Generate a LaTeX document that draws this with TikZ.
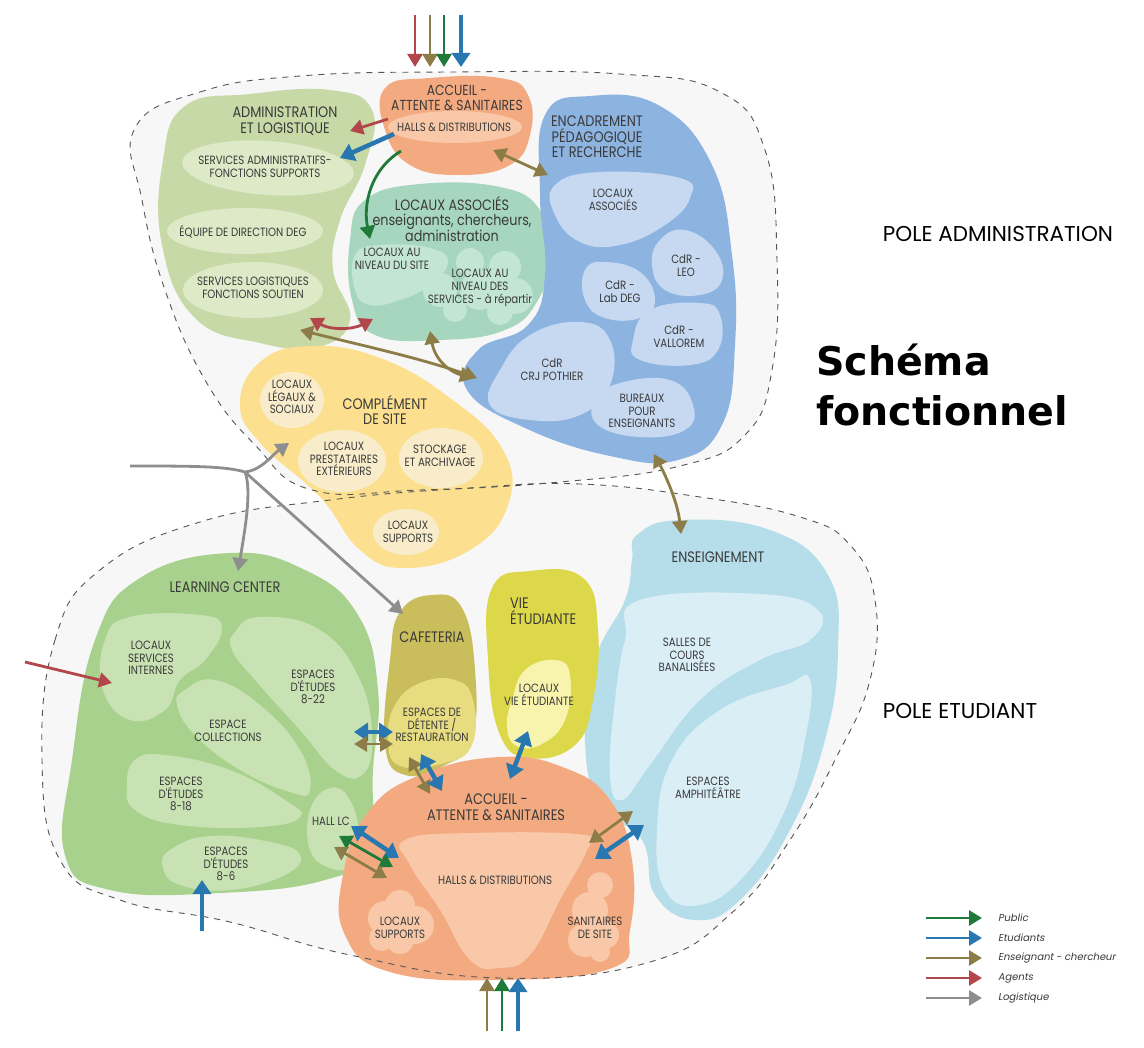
\documentclass[tikz,border=0pt]{standalone}
\usepackage{fontspec}
\setmainfont{Poppins}
\newfontfamily\gfont{Poppins}[FakeStretch=0.85]
\newfontfamily\legfont{Poppins}[FakeSlant=0.18]
\newfontfamily\titlefont{DejaVu Sans}
\usetikzlibrary{arrows.meta}
\definecolor{bgzone}{HTML}{F7F7F7}
\definecolor{dashc}{HTML}{555555}
\definecolor{txt}{HTML}{3A3A3A}
\definecolor{admA}{HTML}{C6D9A6}
\definecolor{admB}{HTML}{DDE9C7}
\definecolor{accA}{HTML}{F3AA80}
\definecolor{accB}{HTML}{F8C8A8}
\definecolor{locA}{HTML}{A7D6BF}
\definecolor{locB}{HTML}{C3E5D3}
\definecolor{encA}{HTML}{8DB4E1}
\definecolor{encB}{HTML}{C6D9F1}
\definecolor{comA}{HTML}{FCE08F}
\definecolor{comB}{HTML}{F8ECCB}
\definecolor{lcA}{HTML}{A9D18E}
\definecolor{lcB}{HTML}{C9E2B4}
\definecolor{cafA}{HTML}{C9BD5C}
\definecolor{cafB}{HTML}{E7DD80}
\definecolor{vieA}{HTML}{DDD84A}
\definecolor{vieB}{HTML}{F8F4AE}
\definecolor{ensA}{HTML}{B6DDEA}
\definecolor{ensB}{HTML}{DAEEF6}
\definecolor{cgreen}{HTML}{1F7A3A}
\definecolor{cblue}{HTML}{2877B0}
\definecolor{colive}{HTML}{8C7D48}
\definecolor{cred}{HTML}{B2474B}
\definecolor{cgray}{HTML}{8E8E90}
\tikzset{
  lab/.style={align=center, text=txt, inner sep=0pt, font=\gfont\fontsize{12}{12.8}\selectfont},
  hd/.style={align=center, text=txt, inner sep=0pt, font=\gfont\fontsize{15.2}{15.5}\selectfont},
  ar/.style={line width=2.8pt, -{Triangle[length=13pt,width=15pt]}},
  dar/.style={line width=2.8pt, {Triangle[length=13pt,width=15pt]}-{Triangle[length=13pt,width=15pt]}},
  arb/.style={line width=4.5pt, -{Triangle[length=14pt,width=18pt]}},
  darb/.style={line width=4.5pt, {Triangle[length=14pt,width=18pt]}-{Triangle[length=14pt,width=18pt]}},
  zone/.style={draw=dashc, line width=0.9pt, dash pattern=on 6pt off 6pt},
  blob/.style={smooth cycle, tension=0.75},
}
\begin{document}
\begin{tikzpicture}[x=1pt,y=-1pt]
\useasboundingbox (0,0) rectangle (1144,1048);
\fill[white] (0,0) rectangle (1144,1048);
% zones
\def\zoneA{plot[blob] coordinates {(135,128) (200,92) (300,76) (450,72) (620,74) (720,92) (765,150) (777,260) (772,370) (745,435) (680,466) (560,482) (420,490) (312,490) (255,445) (205,380) (165,290) (142,200)}}
\def\zoneB{plot[blob] coordinates {(42,760) (55,640) (100,570) (200,522) (330,500) (470,488) (580,484) (700,497) (800,517) (850,545) (875,600) (870,680) (835,760) (790,840) (735,910) (650,962) (500,978) (350,955) (230,922) (120,900) (60,860)}}
\fill[bgzone] \zoneA;
\fill[bgzone] \zoneB;
% admin
\fill[admA] plot[blob] coordinates {(185,106) (250,94) (330,90) (372,110) (365,165) (340,220) (333,270) (350,320) (318,347) (260,343) (195,318) (162,245) (163,160)};
\fill[admB, rotate around={-4:(268,168)}] (268,168) ellipse [x radius=86, y radius=27];
\fill[admB] (245,231) ellipse [x radius=78, y radius=23];
\fill[admB] (253,290) ellipse [x radius=70, y radius=28];
% accueil top
\fill[accA] plot[blob] coordinates {(385,88) (430,78) (500,78) (528,95) (530,135) (510,165) (460,175) (410,165) (385,130)};
\fill[accB] (455,127) ellipse [x radius=67, y radius=16];
% locaux associes
\fill[locA] plot[blob] coordinates {(365,200) (420,184) (500,187) (540,210) (550,255) (538,300) (505,330) (440,340) (375,335) (352,300) (350,240)};
\fill[locB] plot[blob] coordinates {(355,255) (380,245) (430,248) (448,262) (430,285) (400,300) (370,305) (355,290)};
\fill[locB] (470,262) circle (14) (505,267) circle (16) (440,290) circle (17) (480,290) circle (20) (515,296) circle (18) (455,310) circle (12) (500,312) circle (13);
% encadrement
\fill[encA] plot[blob] coordinates {(545,115) (590,96) (660,106) (712,165) (732,255) (735,345) (722,425) (678,460) (610,456) (525,428) (467,390) (478,350) (528,325) (545,275) (540,195)};
\fill[encB] plot[blob] coordinates {(555,185) (600,172) (680,178) (690,198) (665,225) (620,245) (580,242) (555,215)};
\fill[encB] plot[blob] coordinates {(660,240) (685,230) (715,250) (722,280) (700,295) (665,290) (652,265)};
\fill[encB] plot[blob] coordinates {(585,270) (605,262) (640,272) (655,300) (640,318) (605,318) (585,300)};
\fill[encB] plot[blob] coordinates {(650,310) (700,303) (720,315) (718,350) (690,365) (640,360) (633,340)};
\fill[encB] plot[blob] coordinates {(500,370) (530,335) (580,322) (610,340) (610,385) (580,415) (530,420) (490,405)};
\fill[encB] plot[blob] coordinates {(595,400) (620,383) (670,380) (693,405) (685,430) (640,437) (598,425)};
% complement
\fill[comA] plot[blob] coordinates {(240,405) (260,362) (310,346) (380,358) (450,398) (503,450) (508,505) (470,550) (405,568) (360,550) (320,497) (262,445)};
\fill[comB] (292,400) ellipse [x radius=32, y radius=28];
\fill[comB] (342,461) ellipse [x radius=44, y radius=31];
\fill[comB] (441,458) ellipse [x radius=42, y radius=30];
\fill[comB] (406,532) ellipse [x radius=33, y radius=23];
% learning center
\fill[lcA] plot[blob] coordinates {(230,553) (305,570) (358,615) (378,690) (373,770) (368,850) (325,880) (220,893) (110,890) (65,855) (72,760) (95,640) (140,578)};
\fill[lcB] plot[blob] coordinates {(105,640) (130,617) (200,615) (222,628) (205,660) (180,680) (165,710) (130,720) (103,690)};
\fill[lcB] plot[blob] coordinates {(235,632) (260,617) (320,630) (360,680) (372,740) (362,775) (335,770) (300,730) (255,680) (232,650)};
\fill[lcB] plot[blob] coordinates {(185,690) (215,680) (260,705) (300,750) (310,790) (290,792) (240,770) (195,735) (177,705)};
\fill[lcB] plot[blob] coordinates {(135,760) (165,755) (230,770) (285,800) (300,817) (260,827) (180,825) (135,810) (127,785)};
\fill[lcB] plot[blob] coordinates {(170,850) (210,836) (270,842) (300,855) (285,875) (230,890) (180,885) (163,868)};
\fill[lcB] plot[blob] coordinates {(310,810) (330,788) (350,800) (360,840) (352,866) (330,868) (310,850)};
% enseignement
\fill[ensA] plot[blob] coordinates {(637,535) (680,520) (770,530) (828,575) (838,650) (825,740) (790,830) (740,900) (695,920) (655,895) (642,840) (600,805) (585,740) (595,660) (625,600) (632,560)};
\fill[ensB] plot[blob] coordinates {(640,600) (760,594) (818,610) (810,640) (760,660) (700,700) (650,765) (622,800) (610,775) (615,700) (625,640)};
\fill[ensB] plot[blob] coordinates {(810,680) (805,740) (785,810) (745,875) (700,905) (665,890) (657,830) (672,760) (720,710) (785,685)};
% cafeteria
\fill[cafA] plot[blob] coordinates {(400,612) (432,595) (462,608) (475,670) (472,740) (445,765) (405,775) (385,745) (390,660)};
\fill[cafB] plot[blob] coordinates {(395,705) (420,683) (455,680) (473,700) (472,745) (445,763) (400,766) (388,740)};
% vie etudiante
\fill[vieA] plot[blob] coordinates {(492,588) (530,571) (583,578) (598,630) (593,700) (575,745) (530,758) (500,735) (488,660)};
\fill[vieB] plot[blob] coordinates {(512,700) (525,670) (555,660) (570,675) (565,720) (540,745) (515,745) (507,725)};
% accueil bottom
\fill[accA] plot[blob] coordinates {(500,757) (565,768) (610,800) (632,860) (630,930) (612,968) (500,980) (390,972) (345,935) (343,875) (368,812) (420,775)};
\fill[accB] plot[blob] coordinates {(405,840) (470,833) (585,835) (587,850) (560,900) (530,955) (500,968) (470,960) (440,910) (410,865)};
\fill[accB] (385,918) circle (17) (400,905) circle (15) (415,925) circle (19) (400,940) circle (14) (382,938) circle (13);
\fill[accB] (600,885) circle (13) (590,910) circle (18) (585,940) circle (17) (605,935) circle (14) (600,952) circle (10);
% dashed outlines
\draw[zone] \zoneA;
\draw[zone] \zoneB;
% texts
\node[hd] (tAdm) at (285,121) {ADMINISTRATION\\ET LOGISTIQUE};
\node[lab] (tSA) at (265,167) {SERVICES ADMINISTRATIFS-\\FONCTIONS SUPPORTS};
\node[lab] (tEq) at (243,232) {ÉQUIPE DE DIRECTION DEG};
\node[lab] (tSL) at (253,288) {SERVICES LOGISTIQUES\\FONCTIONS SOUTIEN};
\node[hd, font=\gfont\fontsize{14.5}{15}\selectfont] (tAcc) at (457,98) {ACCUEIL -\\ATTENTE \& SANITAIRES};
\node[lab] (tHalls) at (454,127) {HALLS \& DISTRIBUTIONS};
\node[hd, font=\gfont\fontsize{15}{15.5}\selectfont] (tLoc) at (452,219) {LOCAUX ASSOCIÉS\\enseignants, chercheurs,\\administration};
\node[lab] (tLS) at (392,259) {LOCAUX AU\\NIVEAU DU SITE};
\node[lab] (tLSv) at (480,288) {LOCAUX AU\\NIVEAU DES\\SERVICES - à répartir};
\node[hd] (tEnc) at (597,137) {ENCADREMENT\\PÉDAGOGIQUE\\ET RECHERCHE};
\node[lab] (tLA) at (613,200) {LOCAUX\\ASSOCIÉS};
\node[lab] (tLeo) at (686,266) {CdR -\\LEO};
\node[lab] (tLab) at (620,292) {CdR -\\Lab DEG};
\node[lab] (tVal) at (679,337) {CdR -\\VALLOREM};
\node[lab] (tCrj) at (552,370) {CdR\\CRJ POTHIER};
\node[lab] (tBur) at (642,411) {BUREAUX\\POUR\\ENSEIGNANTS};
\node[hd] (tCom) at (385,410) {COMPLÉMENT\\DE SITE};
\node[lab] (tLeg) at (292,397) {LOCAUX\\LÉGAUX \&\\SOCIAUX};
\node[lab] (tPre) at (344,459) {LOCAUX\\PRESTATAIRES\\EXTÉRIEURS};
\node[lab] (tSto) at (440,456) {STOCKAGE\\ET ARCHIVAGE};
\node[lab] (tSup1) at (408,532) {LOCAUX\\SUPPORTS};
\node[hd] (tLC) at (225,587) {LEARNING CENTER};
\node[lab] (tInt) at (151,658) {LOCAUX\\SERVICES\\INTERNES};
\node[lab] (t822) at (313,687) {ESPACES\\D'ÉTUDES\\8-22};
\node[lab] (tCol) at (228,731) {ESPACE\\COLLECTIONS};
\node[lab] (t818) at (181,794) {ESPACES\\D'ÉTUDES\\8-18};
\node[lab] (t86) at (226,864) {ESPACES\\D'ÉTUDES\\8-6};
\node[lab] (tHall) at (331,821) {HALL LC};
\node[hd] (tCaf) at (432,637) {CAFETERIA};
\node[lab] (tDet) at (432,725) {ESPACES DE\\DÉTENTE /\\RESTAURATION};
\node[hd, align=left, anchor=west] (tVie) at (510,611) {VIE\\ÉTUDIANTE};
\node[lab] (tLVE) at (539,695) {LOCAUX\\VIE ÉTUDIANTE};
\node[hd] (tAcc2) at (496,807) {ACCUEIL -\\ATTENTE \& SANITAIRES};
\node[lab] (tHalls2) at (495,880) {HALLS \& DISTRIBUTIONS};
\node[lab] (tSup2) at (400,928) {LOCAUX\\SUPPORTS};
\node[lab] (tSan) at (595,928) {SANITAIRES\\DE SITE};
\node[hd] (tEns) at (718,557) {ENSEIGNEMENT};
\node[lab] (tSal) at (687,655) {SALLES DE\\COURS\\BANALISÉES};
\node[lab] (tAmp) at (708,788) {ESPACES\\AMPHITÉÂTRE};
\node[text=black, font=\fontsize{21.5}{24}\selectfont, inner sep=0pt] (pA) at (998,234) {POLE ADMINISTRATION};
\node[text=black, font=\fontsize{21.5}{24}\selectfont, inner sep=0pt] (pE) at (960,711) {POLE ETUDIANT};
\node[text=black, font=\titlefont\bfseries\fontsize{39.5}{46}\selectfont, inner sep=0pt, anchor=base west] (sch1) at (816,376) {Schéma};
\node[text=black, font=\titlefont\bfseries\fontsize{39.5}{46}\selectfont, inner sep=0pt, anchor=base west] (sch2) at (816,426) {fonctionnel};
% arrow end points
\coordinate (v1a) at (415,15); \coordinate (v1b) at (415,67);
\coordinate (v2a) at (430,15); \coordinate (v2b) at (430,67);
\coordinate (v3a) at (444,15); \coordinate (v3b) at (444,67);
\coordinate (v4a) at (461,15); \coordinate (v4b) at (461,67);
\coordinate (rAa) at (388,119); \coordinate (rAb) at (350,131);
\coordinate (bAa) at (394,134); \coordinate (bAb) at (340,158);
\coordinate (gLa) at (401,151); \coordinate (gLb) at (370,239);
\coordinate (oEa) at (493,150); \coordinate (oEb) at (548,175);
\coordinate (rLa) at (310,318); \coordinate (rLb) at (373,319);
\coordinate (oAa) at (300,330); \coordinate (oAb) at (477,378);
\coordinate (oLa) at (430,331); \coordinate (oLb) at (473,378);
\coordinate (oNa) at (654,454); \coordinate (oNb) at (681,534);
\coordinate (gs) at (130,466); \coordinate (gj) at (245,472);
\coordinate (gC) at (289,443); \coordinate (gLC) at (238,571);
\coordinate (gCaf) at (403,614);
\coordinate (rIa) at (25,662); \coordinate (rIb) at (112,683);
\coordinate (bUa) at (202,931); \coordinate (bUb) at (202,880);
\coordinate (bCa) at (354,732); \coordinate (bCb) at (393,732);
\coordinate (oCa) at (354,744); \coordinate (oCb) at (393,744);
\coordinate (oKa) at (409,757); \coordinate (oKb) at (430,794);
\coordinate (bKa) at (421,754); \coordinate (bKb) at (442,791);
\coordinate (bVa) at (528,731); \coordinate (bVb) at (510,779);
\coordinate (bHa) at (351,826); \coordinate (bHb) at (399,858);
\coordinate (gHa) at (339,836); \coordinate (gHb) at (393,867);
\coordinate (oHa) at (334,847); \coordinate (oHb) at (387,878);
\coordinate (oSa) at (633,811); \coordinate (oSb) at (589,843);
\coordinate (bSa) at (644,825); \coordinate (bSb) at (595,859);
\coordinate (w1a) at (487,1031); \coordinate (w1b) at (487,978);
\coordinate (w2a) at (502,1031); \coordinate (w2b) at (502,978);
\coordinate (w3a) at (518,1031); \coordinate (w3b) at (518,978);
% arrows
\draw[ar, cred] (v1a) -- (v1b);
\draw[ar, colive] (v2a) -- (v2b);
\draw[ar, cgreen] (v3a) -- (v3b);
\draw[arb, cblue] (v4a) -- (v4b);
\draw[ar, cred] (rAa) -- (rAb);
\draw[arb, cblue] (bAa) -- (bAb);
\draw[ar, cgreen] (gLa) .. controls (370,170) and (363,205) .. (gLb);
\draw[dar, colive] (oEa) -- (oEb);
\draw[dar, cred] (rLa) .. controls (330,330) and (352,330) .. (rLb);
\draw[dar, colive] (oAa) .. controls (360,345) and (420,358) .. (oAb);
\draw[dar, colive] (oLa) .. controls (435,360) and (450,372) .. (oLb);
\draw[dar, colive] (oNa) .. controls (668,480) and (678,505) .. (oNb);
\draw[line width=2.8pt, cgray] (gs) .. controls (190,466) and (225,466) .. (gj);
\draw[ar, cgray] (gj) .. controls (262,470) and (272,455) .. (gC);
\draw[ar, cgray] (gj) .. controls (252,490) and (245,530) .. (gLC);
\draw[ar, cgray] (gj) -- (gCaf);
\draw[ar, cred] (rIa) -- (rIb);
\draw[arb, cblue] (bUa) -- (bUb);
\draw[darb, cblue] (bCa) -- (bCb);
\draw[dar, colive] (oCa) -- (oCb);
\draw[dar, colive] (oKa) -- (oKb);
\draw[darb, cblue] (bKa) -- (bKb);
\draw[darb, cblue] (bVa) -- (bVb);
\draw[darb, cblue] (bHa) -- (bHb);
\draw[dar, cgreen] (gHa) -- (gHb);
\draw[dar, colive] (oHa) -- (oHb);
\draw[dar, colive] (oSa) -- (oSb);
\draw[darb, cblue] (bSa) -- (bSb);
\draw[ar, colive] (w1a) -- (w1b);
\draw[ar, cgreen] (w2a) -- (w2b);
\draw[arb, cblue] (w3a) -- (w3b);
% legend
\foreach \c/\t/\yy [count=\i] in {cgreen/Public/918, cblue/Etudiants/938, colive/Enseignant - chercheur/958, cred/Agents/978, cgray/Logistique/998}{
  \coordinate (la\i) at (926,\yy);
  \coordinate (lb\i) at (982,\yy);
  \draw[ar, \c] (la\i) -- (lb\i);
  \node[anchor=west, inner sep=0pt, text=txt, font=\legfont\fontsize{10}{12}\selectfont] (lt\i) at (998,\yy) {\t};
}
\end{tikzpicture}
\end{document}
